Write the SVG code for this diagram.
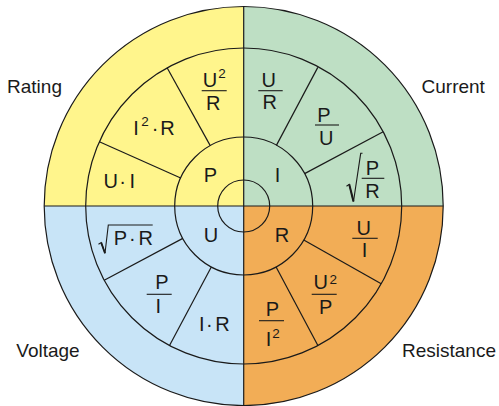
<svg xmlns="http://www.w3.org/2000/svg" width="499" height="406" viewBox="0 0 499 406">
<style>
text{font-family:"Liberation Sans",Arial,Helvetica,sans-serif;font-size:20px;fill:#1a1a1a}
.lab{font-size:19px}
.m{text-anchor:middle}
.sup{font-size:13.5px}
.ln{stroke:#1a1a1a;stroke-width:1.2;fill:none}
.fr{stroke:#1a1a1a;stroke-width:1.1;fill:none}
</style>
<rect width="499" height="406" fill="#ffffff"/>
<g id="quadrants">
<path id="q-power" d="M243.7,206 L44.2,206 A199.5,199.5 0 0 1 243.7,6.5 Z" fill="#fff58c"/>
<path id="q-current" d="M243.7,206 L243.7,6.5 A199.5,199.5 0 0 1 443.2,206 Z" fill="#bedfc4"/>
<path id="q-resistance" d="M243.7,206 L443.2,206 A199.5,199.5 0 0 1 243.7,405.5 Z" fill="#f2ad56"/>
<path id="q-voltage" d="M243.7,206 L243.7,405.5 A199.5,199.5 0 0 1 44.2,206 Z" fill="#c8e4f7"/>
</g>
<g id="connectors" class="ln">
<circle cx="243.7" cy="206" r="199.5"/>
<circle cx="243.7" cy="206" r="158"/>
<circle cx="243.7" cy="206" r="69"/>
<circle cx="243.7" cy="206" r="26"/>
<line x1="243.7" y1="6.5" x2="243.7" y2="405.5"/>
<line x1="44.2" y1="206" x2="443.2" y2="206"/>
<line x1="180.67" y1="177.94" x2="99.37" y2="141.74"/>
<line x1="210.25" y1="145.65" x2="167.1" y2="67.81"/>
<line x1="304.62" y1="173.6" x2="383.2" y2="131.82"/>
<line x1="276.4" y1="145.4" x2="317.8" y2="67.4"/>
<line x1="303.76" y1="239.98" x2="381.2" y2="283.8"/>
<line x1="276.1" y1="266.92" x2="317.88" y2="345.5"/>
<line x1="182.78" y1="238.4" x2="104.2" y2="280.18"/>
<line x1="211.3" y1="266.92" x2="169.52" y2="345.5"/>
</g>
<g id="labels">
<text class="m lab" x="34.5" y="93">Rating</text>
<text class="m lab" x="453.2" y="93">Current</text>
<text class="m lab" x="48" y="356.7">Voltage</text>
<text class="m lab" x="449" y="356.7">Resistance</text>
</g>
<g id="inner">
<text class="m" x="210.5" y="182.3">P</text>
<text class="m" x="277.5" y="182">I</text>
<text class="m" x="211" y="241.7">U</text>
<text class="m" x="282" y="241.7">R</text>
</g>
<g id="power-formulas">
<text class="m" y="188.3"><tspan x="110.8">U</tspan><tspan x="122.7">·</tspan><tspan x="132.3">I</tspan></text>
<text class="m" y="135"><tspan x="136">I</tspan><tspan x="145" y="126" class="sup">2</tspan><tspan x="155" y="135">·</tspan><tspan x="167.5">R</tspan></text>
<text class="m" x="210" y="87.3">U<tspan x="222" y="78" class="sup">2</tspan></text>
<line class="fr" x1="201.7" y1="90.7" x2="226.7" y2="90.7"/>
<text class="m" x="213.3" y="110">R</text>
</g>
<g id="current-formulas">
<text class="m" x="268.7" y="87.3">U</text>
<line class="fr" x1="258.3" y1="90.7" x2="282.7" y2="90.7"/>
<text class="m" x="269.8" y="109.3">R</text>
<text class="m" x="324" y="121.7">P</text>
<line class="fr" x1="315" y1="125" x2="339" y2="125"/>
<text class="m" x="326.2" y="145">U</text>
<polyline class="fr" points="346.5,186.2 349.2,184.3 353.5,201.5 360.7,153.3 362.5,153.3"/>
<line x1="349.2" y1="184.3" x2="353.5" y2="201.5" stroke="#1a1a1a" stroke-width="2"/>
<text class="m" x="372.5" y="175">P</text>
<line class="fr" x1="361.7" y1="178.3" x2="384.3" y2="178.3"/>
<text class="m" x="372.5" y="198.3">R</text>
</g>
<g id="voltage-formulas">
<polyline class="fr" points="98.5,244.3 101.2,242.6 105,253.3 108.3,225 152.7,225"/>
<line x1="101.2" y1="242.6" x2="105" y2="253.3" stroke="#1a1a1a" stroke-width="1.8"/>
<text class="m" y="245"><tspan x="120.5">P</tspan><tspan x="132.3">·</tspan><tspan x="145.8">R</tspan></text>
<text class="m" x="162" y="289.3">P</text>
<line class="fr" x1="146.7" y1="294.3" x2="171.7" y2="294.3"/>
<text class="m" x="158.3" y="313.3">I</text>
<text class="m" y="331"><tspan x="201.7">I</tspan><tspan x="209.3">·</tspan><tspan x="222.5">R</tspan></text>
</g>
<g id="resistance-formulas">
<text class="m" x="363.8" y="235">U</text>
<line class="fr" x1="352.3" y1="238.3" x2="377.7" y2="238.3"/>
<text class="m" x="364.5" y="257.3">I</text>
<text class="m" x="320.8" y="289.3">U<tspan x="333.3" y="283.5" class="sup">2</tspan></text>
<line class="fr" x1="311.7" y1="294.3" x2="336.7" y2="294.3"/>
<text class="m" x="325.7" y="314">P</text>
<text class="m" x="272.5" y="316">P</text>
<line class="fr" x1="259" y1="320.7" x2="284" y2="320.7"/>
<text class="m" x="268.5" y="345.5">I<tspan x="276" y="337.6" class="sup">2</tspan></text>
</g>
</svg>
